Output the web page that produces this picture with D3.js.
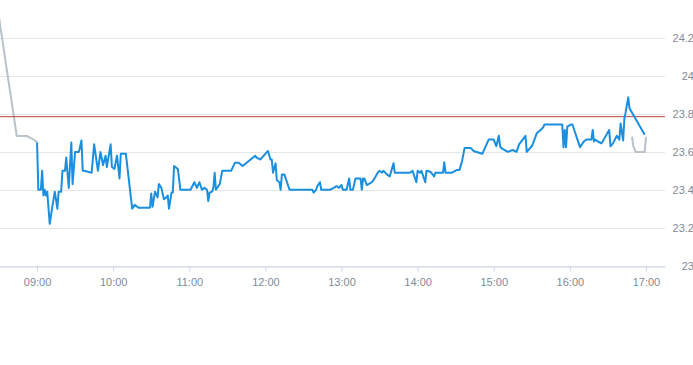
<!DOCTYPE html>
<html>
<head>
<meta charset="utf-8">
<script src="https://cdn.jsdelivr.net/npm/d3@7"></script>
<style>
  body { margin: 0; background: #fff; }
  svg { display: block; font-family: "Liberation Sans", Arial, sans-serif; }
</style>
</head>
<body>
<div id="chart"></div>
<script>
// pre-market (grey)
const preTimes = ["08:30", "08:44", "08:52", "08:58", "09:00"];
const preValues = [24.31, 23.684, 23.684, 23.663, 23.65];

// regular session (blue)
const mainTimes = [
  "09:00", "09:01", "09:03", "09:04", "09:05", "09:06", "09:07", "09:08", "09:10", "09:12",
  "09:14", "09:16", "09:17", "09:19", "09:20", "09:22", "09:23", "09:25", "09:27", "09:28",
  "09:30", "09:33", "09:35", "09:36", "09:37", "09:43", "09:45", "09:48", "09:50", "09:52",
  "09:54", "09:55", "09:58", "09:59", "10:01", "10:03", "10:05", "10:06", "10:10", "10:15",
  "10:17", "10:20", "10:29", "10:30", "10:31", "10:33", "10:35", "10:36", "10:38", "10:40",
  "10:42", "10:43", "10:44", "10:46", "10:47", "10:48", "10:51", "10:53", "11:01", "11:04",
  "11:06", "11:08", "11:10", "11:12", "11:14", "11:15", "11:16", "11:18", "11:19", "11:20",
  "11:21", "11:23", "11:24", "11:26", "11:33", "11:36", "11:39", "11:42", "11:52", "11:53",
  "11:56", "12:02", "12:04", "12:05", "12:06", "12:08", "12:09", "12:11", "12:12", "12:13",
  "12:15", "12:19", "12:37", "12:38", "12:40", "12:41", "12:43", "12:44", "12:51", "12:54",
  "12:56", "12:58", "13:00", "13:01", "13:04", "13:06", "13:07", "13:09", "13:11", "13:15",
  "13:16", "13:17", "13:18", "13:20", "13:24", "13:26", "13:29", "13:30", "13:32", "13:33",
  "13:36", "13:38", "13:41", "13:42", "13:54", "13:56", "13:59", "14:00", "14:02", "14:03",
  "14:06", "14:07", "14:10", "14:12", "14:13", "14:14", "14:20", "14:21", "14:22", "14:27",
  "14:31", "14:33", "14:35", "14:37", "14:42", "14:44", "14:51", "14:56", "15:00", "15:02",
  "15:04", "15:05", "15:06", "15:11", "15:15", "15:18", "15:20", "15:25", "15:26", "15:30",
  "15:31", "15:34", "15:37", "15:39", "15:40", "15:54", "15:55", "15:56", "15:57", "15:58",
  "16:01", "16:02", "16:08", "16:11", "16:13", "16:17", "16:18", "16:19", "16:20", "16:22",
  "16:25", "16:31", "16:32", "16:34", "16:37", "16:39", "16:40", "16:42", "16:43", "16:44",
  "16:46", "16:47", "16:59"
];
const mainValues = [
  23.65, 23.40, 23.40, 23.50, 23.37, 23.40, 23.37, 23.39, 23.22, 23.31,
  23.39, 23.30, 23.39, 23.39, 23.50, 23.50, 23.57, 23.41, 23.65, 23.43,
  23.60, 23.60, 23.66, 23.50, 23.50, 23.49, 23.64, 23.50, 23.60, 23.53,
  23.58, 23.52, 23.64, 23.52, 23.51, 23.58, 23.46, 23.59, 23.59, 23.30,
  23.32, 23.305, 23.305, 23.38, 23.31, 23.39, 23.36, 23.43, 23.41, 23.35,
  23.36, 23.37, 23.30, 23.385, 23.385, 23.525, 23.51, 23.40, 23.40, 23.44,
  23.41, 23.44, 23.40, 23.41, 23.40, 23.34, 23.385, 23.39, 23.41, 23.49,
  23.40, 23.42, 23.43, 23.50, 23.50, 23.543, 23.543, 23.525, 23.58, 23.57,
  23.56, 23.605, 23.56, 23.56, 23.49, 23.54, 23.45, 23.44, 23.40, 23.48,
  23.48, 23.40, 23.40, 23.385, 23.40, 23.42, 23.44, 23.40, 23.40, 23.41,
  23.42, 23.41, 23.425, 23.40, 23.40, 23.46, 23.40, 23.40, 23.46, 23.46,
  23.40, 23.46, 23.46, 23.425, 23.44, 23.46, 23.495, 23.50, 23.49, 23.50,
  23.48, 23.47, 23.54, 23.49, 23.49, 23.50, 23.44, 23.50, 23.49, 23.50,
  23.44, 23.50, 23.495, 23.48, 23.47, 23.49, 23.49, 23.545, 23.49, 23.49,
  23.505, 23.505, 23.55, 23.62, 23.62, 23.605, 23.59, 23.665, 23.665, 23.63,
  23.685, 23.63, 23.62, 23.60, 23.61, 23.60, 23.64, 23.685, 23.60, 23.63,
  23.645, 23.70, 23.716, 23.73, 23.745, 23.745, 23.625, 23.716, 23.625, 23.733,
  23.745, 23.745, 23.625, 23.655, 23.665, 23.665, 23.716, 23.655, 23.665, 23.655,
  23.645, 23.716, 23.63, 23.645, 23.685, 23.665, 23.75, 23.66, 23.777, 23.81,
  23.888, 23.83, 23.69
];

// after-hours (grey)
const postTimes = ["16:49", "16:50", "16:52", "16:59", "17:00"];
const postValues = [23.68, 23.63, 23.60, 23.60, 23.68];

const referenceLine = 23.786;
const yTicks = [23, 23.2, 23.4, 23.6, 23.8, 24, 24.2];
const xTickLabels = ["09:00", "10:00", "11:00", "12:00", "13:00", "14:00", "15:00", "16:00", "17:00"];

const width = 693, height = 365;
const parseTime = d3.timeParse("%H:%M");

const toSeries = (times, values) => times.map((t, i) => ({ date: parseTime(t), value: values[i] }));
const preData = toSeries(preTimes, preValues);
const mainData = toSeries(mainTimes, mainValues);
const postData = toSeries(postTimes, postValues);

const xScale = d3.scaleTime()
    .domain([parseTime("08:30"), parseTime("17:15")])
    .range([-1, 665]);

const yScale = d3.scaleLinear()
    .domain([23, 24.2])
    .range([265.5, 38.3]);

const svg = d3.select("#chart")
    .append("svg")
    .attr("width", width)
    .attr("height", height);

// horizontal grid
svg.append("g")
    .selectAll("line")
    .data(yTicks)
    .join("line")
    .attr("x1", 0)
    .attr("x2", 665)
    .attr("y1", d => Math.round(yScale(d)) + 0.5)
    .attr("y2", d => Math.round(yScale(d)) + 0.5)
    .attr("stroke", "#e6e6e6")
    .attr("stroke-width", 1);

// y labels on the right
svg.append("g")
    .selectAll("text")
    .data(yTicks)
    .join("text")
    .attr("x", 694)
    .attr("y", d => yScale(d) + 4)
    .attr("text-anchor", "end")
    .attr("fill", "#7f8a96")
    .attr("font-size", 11)
    .text(d => d3.format("~g")(d));

// x axis
const xAxis = svg.append("g")
    .attr("transform", "translate(0," + (Math.round(yScale(23)) + 0.5) + ")")
    .call(d3.axisBottom(xScale)
        .tickValues(xTickLabels.map(parseTime))
        .tickFormat(d3.timeFormat("%H:%M"))
        .tickSize(5)
        .tickSizeOuter(0));

xAxis.select(".domain").attr("stroke", "#ccd6eb");
xAxis.selectAll(".tick line").attr("stroke", "#ccd6eb");
xAxis.selectAll(".tick text")
    .attr("fill", "#7f8a96")
    .attr("font-size", 11)
    .attr("font-family", "Liberation Sans, Arial, sans-serif")
    .attr("dy", "1.05em");

const line = d3.line()
    .x(d => xScale(d.date))
    .y(d => yScale(d.value));

svg.append("path")
    .datum(preData)
    .attr("fill", "none")
    .attr("stroke", "#b8c3c9")
    .attr("stroke-width", 2)
    .attr("d", line);

svg.append("path")
    .datum(postData)
    .attr("fill", "none")
    .attr("stroke", "#b8c3c9")
    .attr("stroke-width", 2)
    .attr("d", line);

svg.append("line")
    .attr("x1", 0)
    .attr("x2", 665)
    .attr("y1", yScale(referenceLine))
    .attr("y2", yScale(referenceLine))
    .attr("stroke", "#b5433e")
    .attr("stroke-width", 1);

svg.append("path")
    .datum(mainData)
    .attr("fill", "none")
    .attr("stroke", "#1a8fe0")
    .attr("stroke-width", 2)
    .attr("stroke-linejoin", "round")
    .attr("d", line);
</script>
</body>
</html>
